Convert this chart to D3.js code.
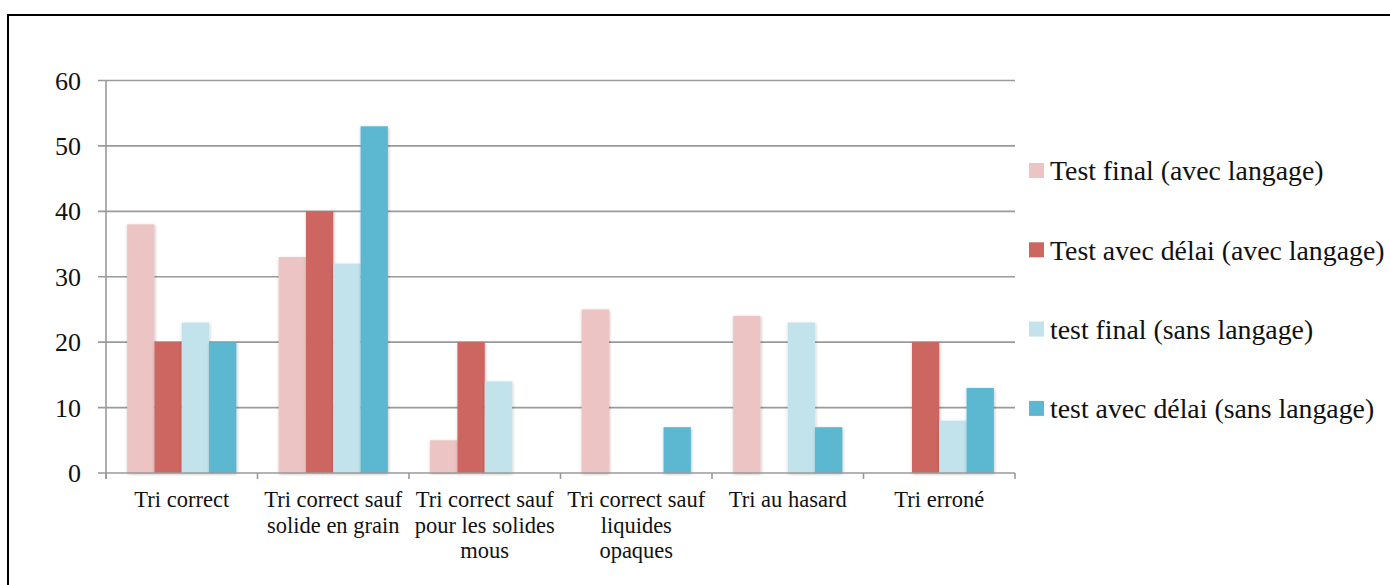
<!DOCTYPE html>
<html>
<head>
<meta charset="utf-8">
<script src="https://cdn.jsdelivr.net/npm/d3@7"></script>
<style>
  body { margin: 0; background: #fff; }
  svg { display: block; }
  text { font-family: "Liberation Serif", "Times New Roman", serif; fill: #111; }
</style>
</head>
<body>
<svg width="1390" height="585"></svg>
<script>
// categories (line breaks as in the original labels)
var categories = [
  "Tri correct",
  "Tri correct sauf\nsolide en grain",
  "Tri correct sauf\npour les solides\nmous",
  "Tri correct sauf\nliquides\nopaques",
  "Tri au hasard",
  "Tri erroné"
];
var seriesNames = [
  "Test final (avec langage)",
  "Test avec délai (avec langage)",
  "test final (sans langage)",
  "test avec délai (sans langage)"
];
var seriesColors = ["#ebc4c3", "#cd6560", "#c2e3ec", "#5bb8d0"];

var testFinalAvec   = [38, 33, 5, 25, 24, 0];
var testDelaiAvec   = [20, 40, 20, 0, 0, 20];
var testFinalSans   = [23, 32, 14, 0, 23, 8];
var testDelaiSans   = [20, 53, 0, 7, 7, 13];

var yTicks = [0, 10, 20, 30, 40, 50, 60];

var allSeries = [testFinalAvec, testDelaiAvec, testFinalSans, testDelaiSans];

var svg = d3.select("svg");

// frame round the whole chart
svg.append("rect")
  .attr("x", 8).attr("y", 15)
  .attr("width", 1400).attr("height", 600)
  .attr("fill", "none")
  .attr("stroke", "#000")
  .attr("stroke-width", 2);

var defs = svg.append("defs");
var f = defs.append("filter").attr("id", "shadow")
  .attr("x", "-20%").attr("y", "-5%").attr("width", "140%").attr("height", "110%");
f.append("feDropShadow")
  .attr("dx", 0.5).attr("dy", 1)
  .attr("stdDeviation", 1.6)
  .attr("flood-color", "#000")
  .attr("flood-opacity", 0.28);

var plotLeft = 106, plotRight = 1015, plotTop = 80.5, plotBottom = 473;

var x0 = d3.scaleBand()
  .domain(d3.range(categories.length))
  .range([plotLeft, plotRight])
  .paddingInner(0).paddingOuter(0);

var x1 = d3.scaleBand()
  .domain(d3.range(seriesNames.length))
  .range([0, x0.bandwidth()])
  .paddingInner(0)
  .paddingOuter(0.775);

var y = d3.scaleLinear().domain([0, 60]).range([plotBottom, plotTop]);

// grid lines
svg.append("g")
  .selectAll("line")
  .data(yTicks.filter(function(d) { return d > 0; }))
  .enter().append("line")
    .attr("x1", plotLeft - 8).attr("x2", plotRight)
    .attr("y1", function(d) { return y(d); })
    .attr("y2", function(d) { return y(d); })
    .attr("stroke", "#9a9a9a")
    .attr("stroke-width", 1.6);

// bars, one group per series
svg.append("g")
  .selectAll("g")
  .data(allSeries)
  .enter().append("g")
    .attr("fill", function(d, i) { return seriesColors[i]; })
  .each(function(vals, si) {
    var g = d3.select(this);
    vals.forEach(function(v, ci) {
      if (v <= 0) return;
      g.append("rect")
        .attr("x", x0(ci) + x1(si))
        .attr("y", y(v))
        .attr("width", x1.bandwidth())
        .attr("height", y(0) - y(v))
        .attr("filter", "url(#shadow)");
    });
  });

// axes lines
svg.append("line")
  .attr("x1", plotLeft).attr("x2", plotLeft)
  .attr("y1", plotTop).attr("y2", plotBottom + 6)
  .attr("stroke", "#9a9a9a").attr("stroke-width", 1.6);
svg.append("line")
  .attr("x1", plotLeft - 8).attr("x2", plotRight)
  .attr("y1", plotBottom).attr("y2", plotBottom)
  .attr("stroke", "#9a9a9a").attr("stroke-width", 1.6);

// category tick marks
svg.append("g")
  .selectAll("line")
  .data(d3.range(categories.length + 1))
  .enter().append("line")
    .attr("x1", function(i) { return plotLeft + i * x0.step(); })
    .attr("x2", function(i) { return plotLeft + i * x0.step(); })
    .attr("y1", plotBottom).attr("y2", plotBottom + 6)
    .attr("stroke", "#9a9a9a").attr("stroke-width", 1.6);

// y tick labels
svg.append("g")
  .selectAll("text")
  .data(yTicks)
  .enter().append("text")
    .attr("x", 81)
    .attr("y", function(d) { return y(d); })
    .attr("dy", "0.35em")
    .attr("text-anchor", "end")
    .style("font-size", "26px")
    .text(function(d) { return d; });

// category labels
var catText = svg.append("g")
  .selectAll("text")
  .data(categories)
  .enter().append("text")
    .attr("text-anchor", "middle")
    .style("font-size", "22.5px")
    .attr("x", function(d, i) { return x0(i) + x0.bandwidth() / 2; })
    .attr("y", 507);

catText.selectAll("tspan")
  .data(function(d, i) {
    return d.split("\n").map(function(s) { return { s: s, cx: x0(i) + x0.bandwidth() / 2 }; });
  })
  .enter().append("tspan")
    .attr("x", function(d) { return d.cx; })
    .attr("dy", function(d, i) { return i === 0 ? 0 : 25.5; })
    .text(function(d) { return d.s; });

// legend
var legend = svg.append("g")
  .selectAll("g")
  .data(seriesNames)
  .enter().append("g")
    .attr("transform", function(d, i) { return "translate(1029," + (163 + i * 79.3) + ")"; });

legend.append("rect")
  .attr("width", 15).attr("height", 15)
  .attr("fill", function(d, i) { return seriesColors[i]; });

legend.append("text")
  .attr("x", 21).attr("y", 7.5)
  .attr("dy", "0.35em")
  .style("font-size", "27.8px")
  .text(function(d) { return d; });
</script>
</body>
</html>
